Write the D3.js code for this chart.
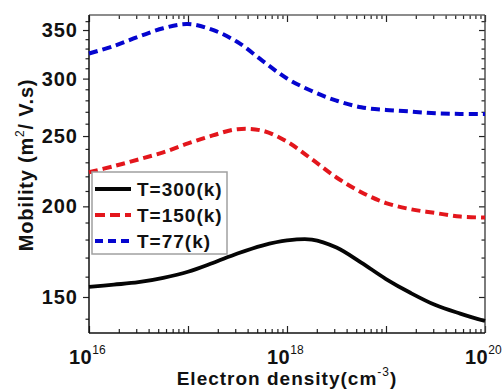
<!DOCTYPE html>
<html lang="en">
<head>
  <meta charset="UTF-8">
  <script src="https://cdn.jsdelivr.net/npm/d3@7"></script>
  <title>Mobility</title>
  <style>
    body { margin: 0; background: #fff; }
    text { font-family: Arial, "Liberation Sans", sans-serif; font-weight: bold; fill: #111; }
    .tick line { stroke: #222; stroke-width: 1.2; }
    .domain { display: none; }
  </style>
</head>
<body>
<script>
  // electron density (cm^-3), read at quarter-decade steps
  const density = [1e16, 1.78e16, 3.16e16, 5.62e16, 1e17, 1.78e17, 3.16e17, 5.62e17, 1e18,
    1.78e18, 3.16e18, 5.62e18, 1e19, 1.78e19, 3.16e19, 5.62e19, 1e20];
  const mu300 = [154.9, 156.0, 157.2, 159.4, 162.5, 167.1, 172.2, 176.6, 179.5, 180.0, 175.5, 167.3, 158.8, 151.9, 146.2, 142.3, 139.0];
  const mu150 = [222.9, 227.2, 232.1, 237.4, 244.2, 250.5, 255.5, 254.3, 245.6, 232.3, 219.2, 209.2, 202.1, 198.2, 195.8, 193.6, 193.0];
  const mu77 = [324.9, 332.7, 342.6, 352.0, 356.7, 350.1, 336.9, 317.7, 300.1, 288.4, 279.7, 273.9, 271.6, 270.2, 268.7, 268.2, 268.1];
  const seriesNames = ["T=300(k)", "T=150(k)", "T=77(k)"];
  const yTicks = [150, 200, 250, 300, 350];
  const yMinor = [140, 160, 170, 180, 190, 210, 220, 230, 240, 260, 270, 280, 290, 310, 320, 330, 340, 360];
  const xMajor = [1e16, 1e17, 1e18, 1e19, 1e20];
  const xLabelled = [1e16, 1e18, 1e20];

  const W = 503, H = 390;
  const L = 89, R = 485, T = 15, B = 333;

  const svg = d3.select('body').append('svg')
    .attr('width', W)
    .attr('height', H);

  const x = d3.scaleLog().domain([1e16, 1e20]).range([L, R]);
  const y = d3.scaleLog().domain([133.8, 367.1]).range([B, T]);

  const xMinor = x.ticks().filter(v => !xMajor.some(m => Math.abs(m - v) / m < 1e-6));

  // ---- axes (ticks only, frame drawn separately)
  svg.append('g').attr('transform', `translate(0,${B})`)
    .call(d3.axisBottom(x).tickValues(xMajor).tickSize(-7).tickFormat(''));
  svg.append('g').attr('transform', `translate(0,${B})`)
    .call(d3.axisBottom(x).tickValues(xMinor).tickSize(-4).tickFormat(''));
  svg.append('g').attr('transform', `translate(0,${T})`)
    .call(d3.axisTop(x).tickValues(xMajor).tickSize(-7).tickFormat(''));
  svg.append('g').attr('transform', `translate(0,${T})`)
    .call(d3.axisTop(x).tickValues(xMinor).tickSize(-4).tickFormat(''));

  const yAxis = svg.append('g').attr('transform', `translate(${L},0)`)
    .call(d3.axisLeft(y).tickValues(yTicks).tickSize(6).tickPadding(5).tickFormat(d3.format('d')));
  yAxis.selectAll('text')
    .attr('font-size', 20).attr('fill', '#111')
    .style('letter-spacing', '1px')
    .attr('font-family', 'Arial, "Liberation Sans", sans-serif');
  svg.append('g').attr('transform', `translate(${L},0)`)
    .call(d3.axisLeft(y).tickValues(yMinor).tickSize(3.5).tickFormat(''));
  svg.append('g').attr('transform', `translate(${R},0)`)
    .call(d3.axisRight(y).tickValues(yTicks).tickSize(-6).tickFormat(''));
  svg.append('g').attr('transform', `translate(${R},0)`)
    .call(d3.axisRight(y).tickValues(yMinor).tickSize(-3.5).tickFormat(''));

  // x tick labels 10^n : the "10" sits left of the tick, exponent to its right
  const xl = svg.append('g').selectAll('text.xl')
    .data(xLabelled).enter()
    .append('text').attr('class', 'xl')
    .attr('x', d => x(d) - 20)
    .attr('y', B + 31)
    .attr('font-size', 20)
    .style('letter-spacing', '0.5px');
  xl.append('tspan').text('10');
  xl.append('tspan').attr('dy', -10).attr('font-size', 12).attr('font-weight', 'normal')
    .style('letter-spacing', '0px')
    .text(d => Math.round(Math.log10(d)));

  // frame
  svg.append('line').attr('x1', L).attr('x2', R).attr('y1', T).attr('y2', T)
    .attr('stroke', '#666').attr('stroke-width', 1.4);
  svg.append('line').attr('x1', R).attr('x2', R).attr('y1', T).attr('y2', B)
    .attr('stroke', '#444').attr('stroke-width', 1.4);
  svg.append('line').attr('x1', L).attr('x2', L).attr('y1', T).attr('y2', B)
    .attr('stroke', '#111').attr('stroke-width', 1.5);
  svg.append('line').attr('x1', L).attr('x2', R).attr('y1', B).attr('y2', B)
    .attr('stroke', '#111').attr('stroke-width', 1.5);

  // curves
  const styles = [
    { values: mu300, color: '#050505', dash: null, width: 3.8 },
    { values: mu150, color: '#e3161c', dash: '9,5', width: 4 },
    { values: mu77, color: '#0505cf', dash: '9,5', width: 4 }
  ];
  const line = d3.line()
    .x(d => x(d[0]))
    .y(d => y(d[1]))
    .curve(d3.curveCatmullRom.alpha(0.5));

  svg.append('g').selectAll('path.curve')
    .data(styles).enter()
    .append('path').attr('class', 'curve')
    .attr('d', s => line(density.map((n, i) => [n, s.values[i]])))
    .attr('fill', 'none')
    .attr('stroke', s => s.color)
    .attr('stroke-width', s => s.width)
    .attr('stroke-dasharray', s => s.dash);

  // legend
  const lg = svg.append('g');
  lg.append('rect').attr('x', 92).attr('y', 172).attr('width', 135).attr('height', 82)
    .attr('fill', '#fff').attr('stroke', '#a0a0a0').attr('stroke-width', 1.5);
  const rows = lg.selectAll('g.row').data(styles).enter()
    .append('g').attr('class', 'row')
    .attr('transform', (d, i) => `translate(0,${189 + i * 26})`);
  rows.append('line').attr('x1', 95).attr('x2', 131)
    .attr('stroke', s => s.color)
    .attr('stroke-width', s => s.width)
    .attr('stroke-dasharray', (s, i) => i === 0 ? null : (i === 1 ? '10,5' : '8,5'));
  rows.append('text').attr('x', 137).attr('y', 7)
    .attr('font-size', 19)
    .style('letter-spacing', '1px')
    .text((d, i) => seriesNames[i]);

  // axis titles
  const xt = svg.append('text')
    .attr('x', (L + R) / 2).attr('y', 385)
    .attr('text-anchor', 'middle')
    .attr('font-size', 19)
    .style('letter-spacing', '1px');
  xt.append('tspan').text('Electron density(cm');
  xt.append('tspan').attr('dy', -9).attr('font-size', 12).attr('font-weight', 'normal').text('-3');
  xt.append('tspan').attr('dy', 9).text(')');

  const yt = svg.append('text')
    .attr('transform', 'translate(33,165) rotate(-90)')
    .attr('text-anchor', 'middle')
    .attr('font-size', 20)
    .style('letter-spacing', '0.8px');
  yt.append('tspan').text('Mobility (m');
  yt.append('tspan').attr('dy', -9).attr('font-size', 12).attr('font-weight', 'normal').text('2');
  yt.append('tspan').attr('dy', 9).text('/ V.s)');
</script>
</body>
</html>
